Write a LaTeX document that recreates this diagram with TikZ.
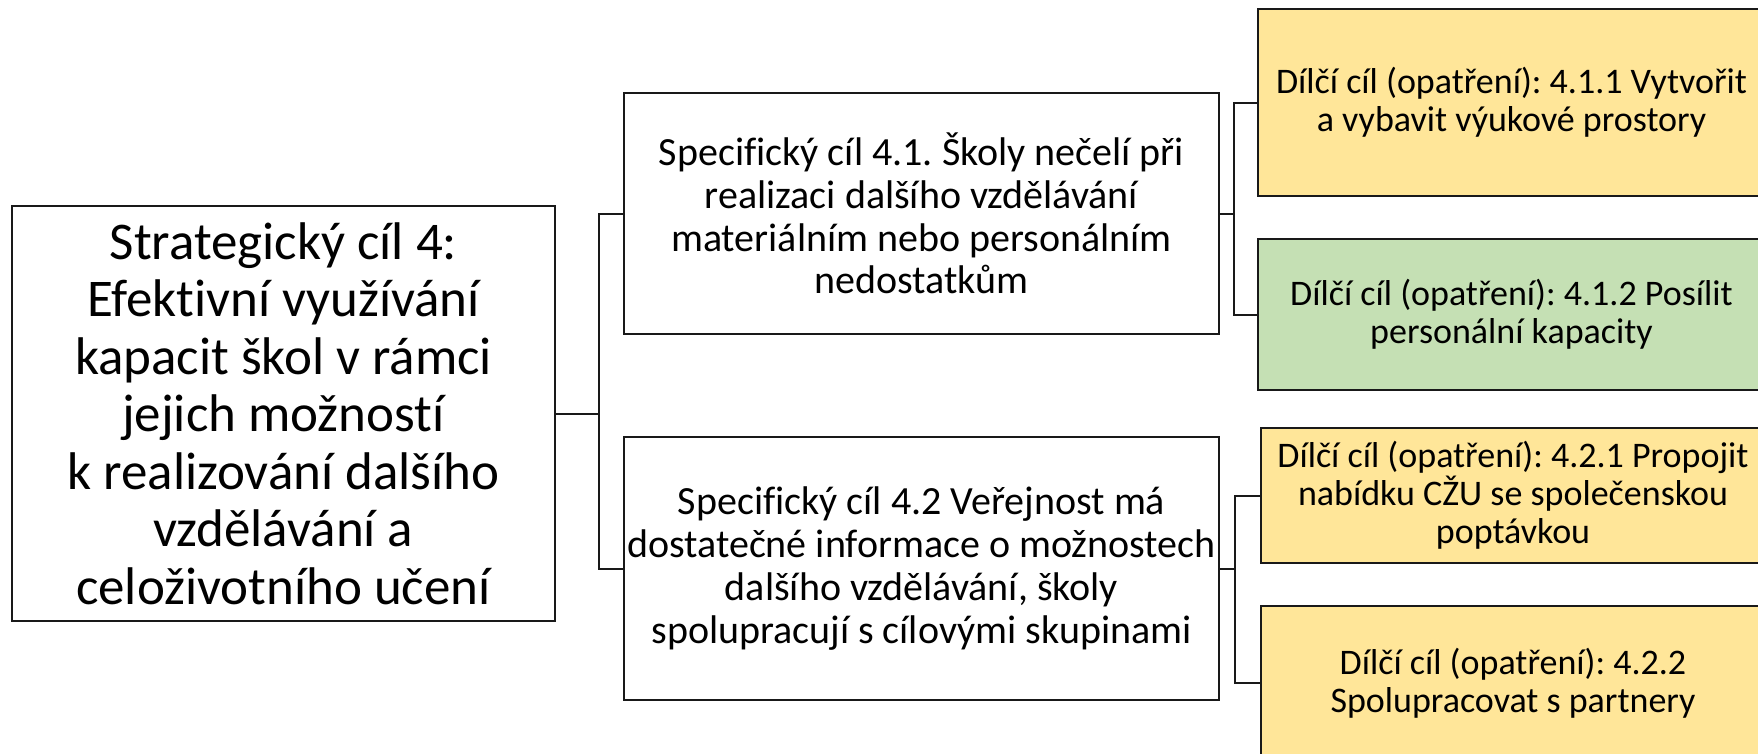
\documentclass[tikz,border=0pt]{standalone}
\usepackage{fontspec}
\setmainfont{Carlito}[Ligatures=NoCommon]
\frenchspacing
\definecolor{goalyellow}{HTML}{FFE699}
\definecolor{goalgreen}{HTML}{C5E0B4}
\begin{document}
\begin{tikzpicture}[x=1pt,y=-1pt,
  box/.style={draw=black!90, line width=2pt, inner sep=0pt, align=center, text=black},
  bigtext/.style={font=\fontsize{53}{57.5}\selectfont},
  midtext/.style={font=\fontsize{40}{42.8}\selectfont},
  smalltext/.style={font=\fontsize{36}{38}\selectfont},
  conn/.style={draw=black!90, line width=2pt}]
\clip (0,0) rectangle (1758,753);
\fill[white] (0,0) rectangle (1758,753);
\node[box, bigtext, minimum width=543pt, minimum height=415pt] (L) at (283.5,413.5)
  {Strategický cíl 4:\\Efektivní využívání\\kapacit škol v rámci\\jejich možností\\k realizování dalšího\\vzdělávání a\\celoživotního učení};
\node[box, midtext, minimum width=595pt, minimum height=241pt] (S1) at (921.5,213.5)
  {Specifický cíl 4.1. Školy nečelí při\\realizaci dalšího vzdělávání\\materiálním nebo personálním\\nedostatkům};
\node[box, midtext, minimum width=595pt, minimum height=263pt] (S2) at (921.5,568.5)
  {Specifický cíl 4.2 Veřejnost má\\dostatečné informace o možnostech\\dalšího vzdělávání, školy\\spolupracují s cílovými skupinami};
\node[box, smalltext, fill=goalyellow, minimum width=507pt, minimum height=187pt] (D1) at (1511.5,102.5)
  {Dílčí cíl (opatření): 4.1.1 Vytvořit\\a vybavit výukové prostory};
\node[box, smalltext, fill=goalgreen, minimum width=507pt, minimum height=151pt] (D2) at (1511.5,314.5)
  {Dílčí cíl (opatření): 4.1.2 Posílit\\personální kapacity};
\node[box, smalltext, fill=goalyellow, minimum width=504pt, minimum height=135pt] (D3) at (1513,495.5)
  {Dílčí cíl (opatření): 4.2.1 Propojit\\nabídku CŽU se společenskou\\poptávkou};
\node[box, smalltext, fill=goalyellow, minimum width=504pt, minimum height=154pt] (D4) at (1513,683)
  {Dílčí cíl (opatření): 4.2.2\\Spolupracovat s partnery};
\coordinate (j0) at ([xshift=43pt]L.east);
\coordinate (j1) at ([xshift=14pt]S1.east);
\coordinate (j2) at ([xshift=15pt]S2.east);
\draw[conn] (L.east) -- (j0) |- (S1.west);
\draw[conn] (j0) |- (S2.west);
\draw[conn] (S1.east) -- (j1) |- (D1.west);
\draw[conn] (j1) |- (D2.west);
\draw[conn] (S2.east) -- (j2) |- (D3.west);
\draw[conn] (j2) |- (D4.west);
\end{tikzpicture}
\end{document}
